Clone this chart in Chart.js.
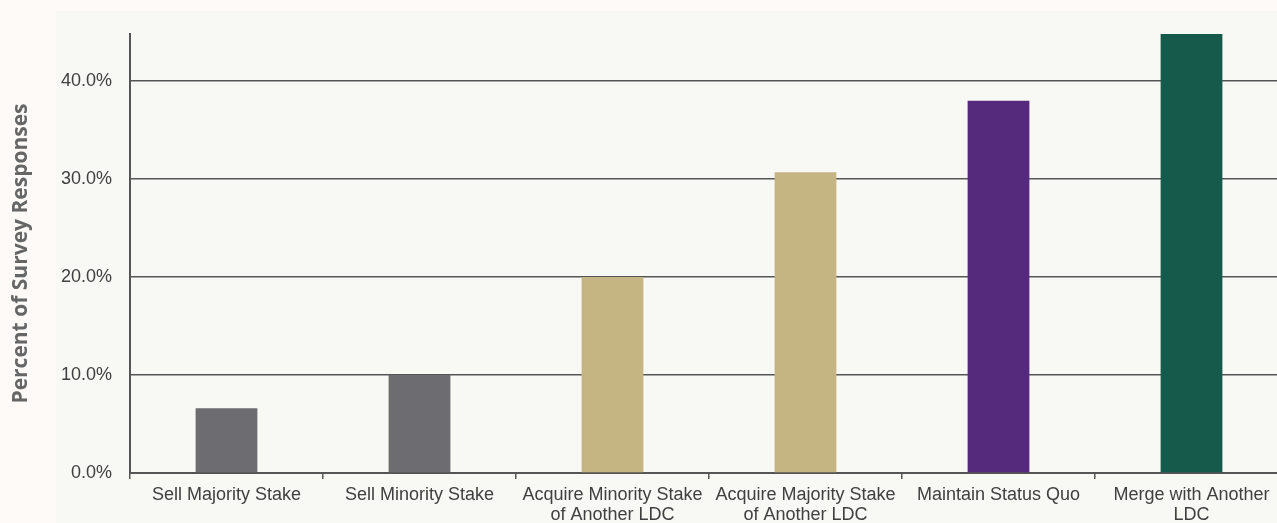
<!DOCTYPE html>
<html>
<head>
<meta charset="utf-8">
<script src="https://cdn.jsdelivr.net/npm/chart.js@4.4.0/dist/chart.umd.min.js"></script>
<style>
  html, body { margin: 0; padding: 0; width: 1277px; height: 523px; overflow: hidden; background: #fdfaf7; }
  #panel { position: absolute; left: 56px; top: 11px; width: 1221px; height: 512px; background: #f8f8f4; }
  #wrap { position: absolute; left: 0; top: 0; width: 1300px; height: 523px; }
</style>
</head>
<body>
<div id="panel"></div>
<div id="wrap"><canvas id="c"></canvas></div>
<script>
const categories = [
  "Sell Majority Stake",
  "Sell Minority Stake",
  ["Acquire Minority Stake", "of Another LDC"],
  ["Acquire Majority Stake", "of Another LDC"],
  "Maintain Status Quo",
  ["Merge with Another", "LDC"]
];
const responses = [6.6, 10.0, 20.0, 30.7, 38.0, 45.0];
const barColors = ["#6d6c71", "#6d6c71", "#c4b583", "#c4b583", "#55297c", "#165a4c"];
const yTickValues = [0, 10, 20, 30, 40];
const yTitle = "Percent of Survey Responses";
const axisColor = "#555555";

new Chart(document.getElementById("c"), {
  type: "bar",
  data: {
    labels: categories,
    datasets: [{
      data: responses,
      backgroundColor: barColors,
      borderWidth: 0,
      barPercentage: 0.32,
      categoryPercentage: 1.0
    }]
  },
  options: {
    responsive: true,
    maintainAspectRatio: false,
    animation: false,
    layout: { padding: { top: 34, right: 12, left: 0, bottom: 0 } },
    plugins: { legend: { display: false }, tooltip: { enabled: false } },
    scales: {
      x: {
        grid: { drawOnChartArea: false, drawTicks: true, tickLength: 6, color: axisColor, lineWidth: 1.5, offset: true },
        border: { display: true, color: axisColor, width: 2 },
        ticks: { color: "#404040", font: { family: "Liberation Sans, Arial", size: 18, lineHeight: 1.1 }, padding: 6, maxRotation: 0, autoSkip: false },
        afterFit: s => { s.height = 50; }
      },
      y: {
        min: 0,
        max: 44.8,
        grid: { color: axisColor, lineWidth: 1.5, drawTicks: false },
        border: { display: true, color: axisColor, width: 2 },
        afterBuildTicks: s => { s.ticks = yTickValues.map(v => ({ value: v })); },
        ticks: {
          color: "#404040",
          font: { family: "Liberation Sans, Arial", size: 18 },
          padding: 18,
          callback: v => v.toFixed(1) + "%"
        },
        title: {
          display: true,
          text: yTitle,
          color: "#666666",
          font: { family: "Open Sans", size: 21, weight: "bold" },
          padding: { top: 8, bottom: 0 }
        },
        afterFit: s => { s.width = 130; }
      }
    }
  }
});
</script>
</body>
</html>
